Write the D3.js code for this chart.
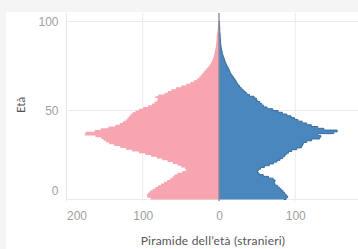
<!DOCTYPE html>
<html>
<head>
<meta charset="utf-8">
<script src="https://cdn.jsdelivr.net/npm/d3@7"></script>
<style>
    html, body { margin: 0; padding: 0; background: #f5f5f5; }
    svg { display: block; font-family: Lato, "Open Sans", sans-serif; }
</style>
</head>
<body>
<div id="chart"></div>
<script>
// age 0..100, one value per year
const ages = d3.range(0, 101);

const femmine = [
    86, 93, 95, 94, 92, 89, 85, 82, 78, 74,
    70, 66, 62, 60, 57, 52, 44, 42, 47, 52,
    57, 64, 71, 78, 85, 93, 100, 110, 118, 126,
    133, 142, 146, 150, 153, 156, 168, 184, 166, 160,
    150, 140, 132, 128, 124, 121, 119, 117, 115, 112,
    107, 103, 96, 90, 86, 83, 79, 82, 85, 74,
    69, 65, 60, 53, 46, 40, 35, 31, 27, 25,
    23, 21, 19, 17, 15, 13, 11.5, 10, 9, 8,
    7, 6.5, 6, 5.5, 5, 4.5, 4, 4, 3.5, 3.5,
    3, 3, 3, 2.5, 2, 2, 1.5, 1.5, 1, 1,
    1
];

const maschi = [
    85, 91, 89, 87, 85, 83, 80, 78, 75, 72,
    73, 74, 68, 62, 54, 51, 50, 53, 56, 63,
    69, 74, 78, 82, 85, 87, 89, 93, 98, 106,
    110, 109, 112, 118, 125, 139, 128, 131, 170, 140,
    135, 124, 118, 112, 106, 101, 97, 92, 86, 80,
    75, 66, 60, 57, 55, 52, 48, 50, 42, 38,
    35, 33, 30, 28, 26, 24, 23, 21.5, 20, 18,
    16.5, 15, 14, 13, 12, 10.5, 9.5, 8.5, 7.5, 7,
    6, 5, 4.5, 4, 3.5, 3, 2.5, 2.5, 2, 2,
    2, 1.5, 1.5, 1.5, 1, 1, 1, 1, 0.5, 0.5,
    0.5
];

const xTicks = [-200, -100, 0, 100];
const yTicks = [0, 50, 100];

const width = 358;
const height = 249;
const margin = { top: 13, right: 0, bottom: 48, left: 66.5 };

const svg = d3.select("#chart")
    .append("svg")
    .attr("width", width)
    .attr("height", height);

// white pane on the grey page
svg.append("rect")
    .attr("x", 6)
    .attr("y", 12)
    .attr("width", width - 6)
    .attr("height", height - 12)
    .attr("fill", "#ffffff");

// scales
const x = d3.scaleLinear()
    .domain([-200, 182.3])
    .range([margin.left, width - margin.right]);

const y = d3.scaleLinear()
    .domain([0, 100])
    .range([199.5, 21.5]);

const plotBottom = 201;

// grid lines
const grid = svg.append("g");
grid.selectAll(".vgrid")
    .data(xTicks.filter(d => d !== 0))
    .join("line")
    .attr("class", "vgrid")
    .attr("x1", d => x(d))
    .attr("x2", d => x(d))
    .attr("y1", margin.top)
    .attr("y2", plotBottom)
    .attr("stroke", "#ebebeb")
    .attr("stroke-width", 1);

grid.selectAll(".hgrid")
    .data(yTicks)
    .join("line")
    .attr("class", "hgrid")
    .attr("x1", margin.left)
    .attr("x2", width)
    .attr("y1", d => y(d))
    .attr("y2", d => y(d))
    .attr("stroke", "#ebebeb")
    .attr("stroke-width", 1);

const rows = ages.map((a, i) => ({ age: a, f: femmine[i], m: maschi[i] }));

// females, to the left
const areaF = d3.area()
    .curve(d3.curveStep)
    .y(d => y(d.age))
    .x0(x(0))
    .x1(d => x(-d.f));

svg.append("path")
    .datum(rows)
    .attr("d", areaF)
    .attr("fill", "#f6a5b1");

// males, to the right
const areaM = d3.area()
    .curve(d3.curveStep)
    .y(d => y(d.age))
    .x0(x(0))
    .x1(d => x(d.m));

svg.append("path")
    .datum(rows)
    .attr("d", areaM)
    .attr("fill", "#4b87bf");

// darker outline on the male edge
svg.append("path")
    .datum(rows)
    .attr("d", d3.line().curve(d3.curveStep).y(d => y(d.age)).x(d => x(d.m)))
    .attr("fill", "none")
    .attr("stroke", "#3a6d9c")
    .attr("stroke-width", 1);

// zero line
svg.append("line")
    .attr("x1", x(0))
    .attr("x2", x(0))
    .attr("y1", margin.top)
    .attr("y2", plotBottom)
    .attr("stroke", "#8a8a9a")
    .attr("stroke-width", 1.4);

// x axis labels (absolute values)
const xAxis = d3.axisBottom(x)
    .tickValues(xTicks)
    .tickSize(0)
    .tickFormat(d => Math.abs(d));

const gx = svg.append("g")
    .attr("transform", `translate(0,${plotBottom + 7})`)
    .call(xAxis);
gx.select(".domain").remove();
gx.selectAll("text")
    .attr("fill", "#a0a0a0")
    .style("font-size", "12px")
    .style("text-anchor", d => d === -200 ? "start" : "middle");

// y axis labels
const yAxis = d3.axisLeft(y)
    .tickValues(yTicks)
    .tickSize(0)
    .tickPadding(8);

const gy = svg.append("g")
    .attr("transform", `translate(${margin.left},0)`)
    .call(yAxis);
gy.select(".domain").remove();
gy.selectAll("text")
    .attr("fill", "#a0a0a0")
    .style("font-size", "12px")
    .attr("dy", d => d === 0 ? "-0.4em" : "0.32em");

// pane border on the left
svg.append("line")
    .attr("x1", margin.left)
    .attr("x2", margin.left)
    .attr("y1", margin.top)
    .attr("y2", plotBottom)
    .attr("stroke", "#e6e6e6");

// y axis title
svg.append("text")
    .attr("text-anchor", "middle")
    .attr("transform", `translate(25,105) rotate(-90)`)
    .attr("fill", "#555")
    .style("font-size", "11.5px")
    .text("Età");

// x axis title
svg.append("text")
    .attr("text-anchor", "middle")
    .attr("x", 213)
    .attr("y", 245)
    .attr("fill", "#555")
    .style("font-size", "12px")
    .style("letter-spacing", "0.2px")
    .text("Piramide dell’età (stranieri)");
</script>
</body>
</html>
